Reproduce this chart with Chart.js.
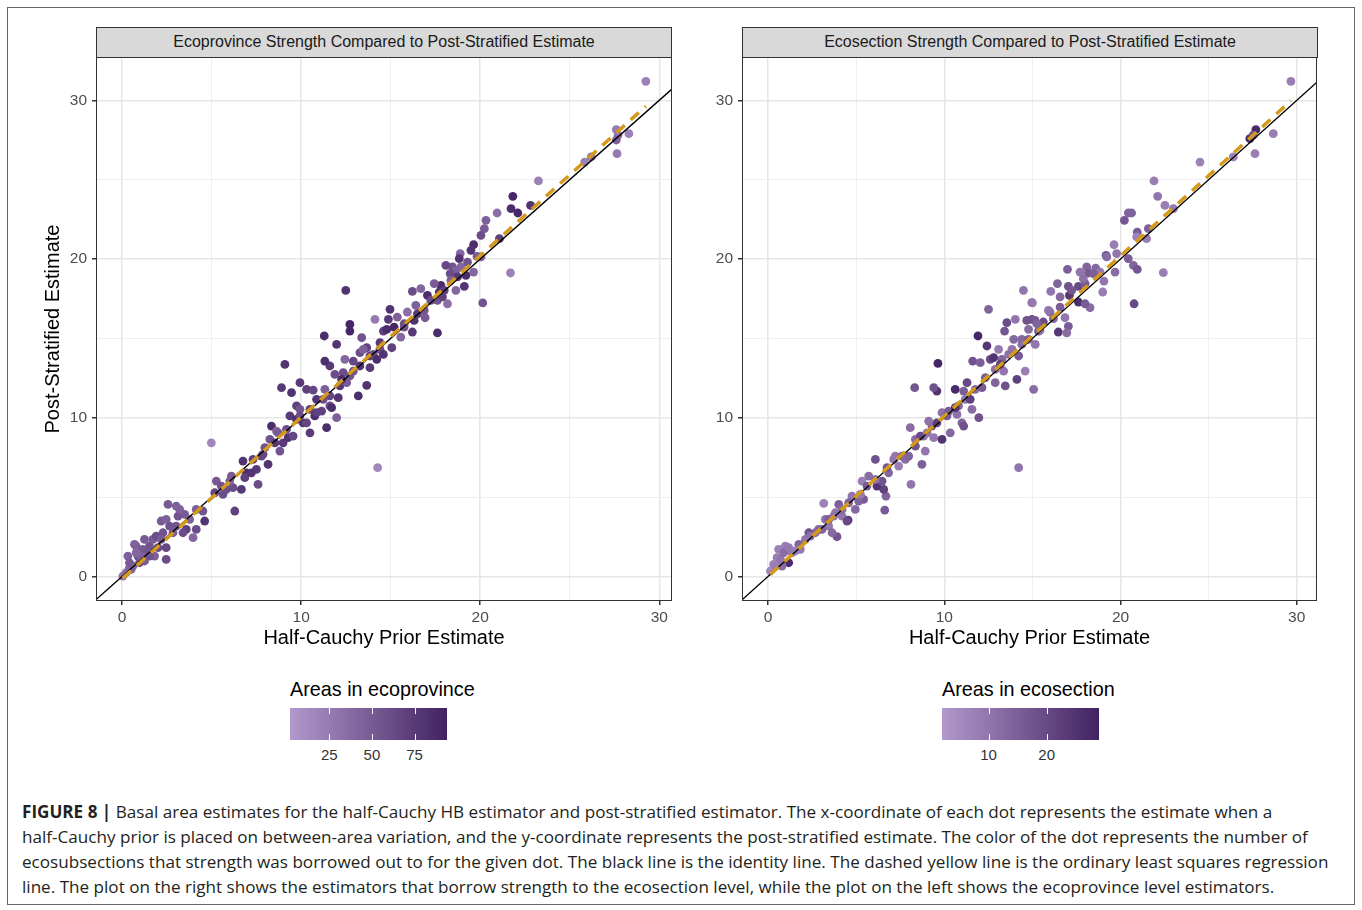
<!DOCTYPE html>
<html>
<head>
<meta charset="utf-8">
<script src="https://cdn.jsdelivr.net/npm/chart.js@4.4.1/dist/chart.umd.min.js"></script>
<style>
  body { margin: 0; background: #fff; font-family: "Liberation Sans", Arial, sans-serif; }
  #page { position: relative; width: 1362px; height: 910px; overflow: hidden; }
  #frame { position: absolute; left: 7px; top: 7px; width: 1348px; height: 898px; border: 1.5px solid #666; box-sizing: border-box; }
  .box { position: absolute; }
  .strip { position: absolute; top: 27px; height: 31px; width: 576px; background: #d9d9d9; border: 1px solid #333; box-sizing: border-box;
           font-size: 16px; color: #1a1a1a; text-align: center; line-height: 28px; z-index: 2; }
  .legTitle { position: absolute; top: 678px; font-size: 19.8px; color: #000; white-space: nowrap; }
  .bar { position: absolute; top: 708px; height: 32px; width: 157px; }
  .tick { position: absolute; width: 1px; height: 6px; background: #fff; }
  .lab { position: absolute; top: 746px; font-size: 15px; color: #333; transform: translateX(-50%); }
  #caption { position: absolute; left: 22px; top: 799px; font-family: "Open Sans", sans-serif; font-size: 17.1px; line-height: 25px; color: #231f20; white-space: nowrap; }
</style>
</head>
<body>
<div id="page">
  <div id="frame"></div>
  <div class="box" style="left:0;top:0;width:700px;height:670px;"><canvas id="left"></canvas></div>
  <div class="box" style="left:700px;top:0;width:662px;height:670px;"><canvas id="right"></canvas></div>
  <div class="strip" style="left:96px;">Ecoprovince Strength Compared to Post-Stratified Estimate</div>
  <div class="strip" style="left:742px;">Ecosection Strength Compared to Post-Stratified Estimate</div>
  <div id="legends"></div>
  <div id="caption"><b>FIGURE 8 |</b> Basal area estimates for the half-Cauchy HB estimator and post-stratified estimator. The x-coordinate of each dot represents the estimate when a<br>half-Cauchy prior is placed on between-area variation, and the y-coordinate represents the post-stratified estimate. The color of the dot represents the number of<br>ecosubsections that strength was borrowed out to for the given dot. The black line is the identity line. The dashed yellow line is the ordinary least squares regression<br>line. The plot on the right shows the estimators that borrow strength to the ecosection level, while the plot on the left shows the ecoprovince level estimators.</div>
</div>
<script>
// ecoprovince panel (left): half-Cauchy estimate, post-stratified estimate, areas in ecoprovince
var leftX = [0.04,0.22,0.41,0.32,0.78,0.69,1.16,1.34,0.97,0.60,1.53,1.72,1.90,2.28,2.46,2.18,2.46,2.56,3.02,3.12,3.49,3.58,3.96,3.77,4.14,4.51,4.61,3.40,2.84,2.65,1.81,1.25,0.88,0.50,
  0.41,1.06,1.53,2.00,2.18,3.02,3.21,4.14,2.46,1.25,0.78,
  5.26,5.17,5.54,5.82,6.19,6.29,6.66,6.01,6.10,6.75,6.94,7.31,7.50,7.59,7.87,8.15,8.25,8.34,8.62,8.81,8.99,9.27,9.37,9.55,9.74,9.93,10.11,10.30,10.49,10.76,10.86,11.42,11.60,11.98,
  5.63,6.85,7.22,7.78,7.97,8.53,9.18,9.74,10.49,10.86,11.60,12.16,12.72,13.28,13.84,14.40,
  9.09,8.90,9.46,9.93,10.30,10.67,11.32,11.23,11.70,12.07,11.60,11.32,11.98,11.88,12.44,12.72,12.72,13.19,13.66,13.38,13.28,13.66,13.84,14.03,14.22,14.59,14.59,14.87,14.12,14.96,14.78,15.06,
  12.91,12.54,12.35,12.91,13.47,14.40,8.71,9.93,11.14,12.26,4.98,14.27,12.49,11.29,
  29.25,27.60,27.70,27.60,28.30,27.64,25.83,26.20,23.25,21.82,21.72,22.10,22.81,20.94,20.32,20.23,20.04,21.07,19.63,18.88,18.83,19.82,20.04,18.45,18.64,18.32,18.92,19.20,19.63,21.69,
  19.11,17.80,17.43,18.64,18.17,17.61,17.05,16.68,16.21,20.14,16.40,16.87,15.93,15.37,15.75,16.31,16.92,16.21,17.61,15.56,15.19,17.71,17.99,
  18.08,18.73,19.29,19.48,18.36,17.89,17.24,16.49,15.75];
var leftY = [0.02,0.23,0.55,1.28,1.91,2.02,1.70,1.49,0.86,0.65,1.91,2.33,2.54,2.75,1.07,3.49,3.59,4.54,4.43,3.80,3.91,2.96,2.44,3.59,4.22,4.12,3.49,2.75,2.75,3.17,1.28,0.97,1.28,0.44,
  0.86,1.28,1.28,1.81,2.33,3.17,4.22,2.96,1.81,2.33,1.49,
  6.01,5.27,5.69,5.48,5.59,4.12,5.48,6.01,6.32,7.27,6.53,7.37,6.74,5.80,7.69,7.06,8.63,9.47,9.16,7.90,8.42,8.74,10.11,8.84,10.74,10.53,9.68,9.68,9.05,10.11,10.32,9.37,10.74,10.00,
  5.17,6.22,6.53,7.58,8.11,8.42,9.26,9.89,10.53,11.16,11.37,12.00,12.63,13.26,13.89,14.31,
  13.36,11.89,11.58,12.21,11.79,11.74,11.79,11.16,10.63,11.26,13.26,13.57,14.62,12.73,13.68,15.88,15.46,11.37,12.04,15.04,14.10,14.41,13.15,13.99,13.68,13.99,15.46,16.20,16.20,16.83,15.57,14.41,
  12.94,12.21,12.84,13.57,14.31,14.73,9.05,10.11,10.42,12.42,8.42,6.85,18.02,15.15,
  31.20,28.15,27.80,27.50,27.90,26.64,26.11,26.43,24.92,23.95,23.17,22.90,23.38,22.90,22.44,21.91,21.49,21.28,20.90,20.34,20.02,20.17,20.13,19.50,19.29,19.08,19.50,18.97,19.18,19.12,
  18.28,18.34,18.45,18.03,17.18,17.39,17.71,18.13,17.96,17.23,17.08,16.76,16.66,16.34,15.92,16.13,16.30,15.40,15.34,15.08,15.71,17.92,18.03,
  19.60,18.87,19.81,20.55,18.66,17.61,17.39,16.55,15.71];
var leftAreas = [30,35,40,45,50,45,50,55,60,40,55,50,60,55,60,50,45,50,45,55,50,70,40,45,45,55,80,60,50,55,45,50,55,45,
  50,45,55,60,50,55,45,60,65,50,40,
  50,65,55,60,60,70,75,45,50,80,85,70,75,60,65,80,55,85,40,55,75,80,75,65,70,55,80,65,75,85,70,85,60,45,
  60,70,80,65,55,75,60,85,70,80,65,75,55,80,70,60,
  80,75,80,75,70,65,45,60,85,80,75,85,80,60,40,90,90,85,80,55,60,70,75,60,85,80,70,75,25,80,85,70,
  55,50,60,65,45,75,50,60,70,85,15,15,80,85,
  20,25,30,45,20,25,20,30,20,90,85,90,80,35,45,50,60,70,85,40,80,50,45,55,45,60,40,85,40,20,
  80,85,50,40,35,55,85,40,60,55,45,55,35,45,60,80,50,75,85,40,90,80,70,
  65,75,55,80,45,70,60,75,55];

// ecosection panel (right)
var rightX = [14.22,8.11,6.62,6.69,6.56,6.18,6.47,6.09,5.33,5.71,5.42,5.14,4.76,4.95,4.54,4.20,4.01,3.82,3.91,3.16,3.25,3.44,3.06,2.68,2.31,2.12,1.74,1.83,1.17,0.98,0.60,0.51,0.32,0.13,0.79,1.36,1.55,3.63,4.48,
  0.42,0.70,0.89,1.17,2.40,2.87,3.44,3.72,4.20,4.57,5.24,5.61,6.09,6.84,7.22,7.60,8.36,8.83,9.30,9.87,10.15,10.81,11.19,11.76,12.33,12.89,13.27,13.84,14.40,14.78,
  6.75,7.13,7.41,7.79,7.98,8.73,8.92,8.36,8.07,8.64,9.02,9.40,9.58,9.11,9.87,10.34,10.25,10.72,11.00,11.10,10.62,11.10,11.47,11.57,11.96,12.14,11.29,10.62,9.58,9.40,8.32,
  9.64,11.91,11.61,12.04,12.42,12.61,12.89,13.46,13.37,13.18,13.42,13.55,14.03,13.94,14.22,14.40,14.59,14.12,14.78,14.97,14.97,12.51,15.07,15.16,15.35,13.08,13.65,12.80,
  29.67,28.67,27.63,27.68,27.34,27.53,26.40,24.51,21.90,22.11,22.52,23.00,20.44,20.63,20.22,20.95,21.58,21.48,20.92,19.63,19.18,19.78,20.44,20.73,20.95,22.43,
  18.08,17.70,18.18,18.59,18.84,19.06,18.99,19.69,16.99,16.42,16.04,17.04,17.61,17.99,17.10,17.61,18.27,17.99,20.77,15.00,14.49,16.00,16.57,16.85,16.19,15.62,15.15,16.47,17.04,16.95,14.68,15.43,
  19.22,18.46,17.89,17.23,16.57,15.91,15.25];
var rightY = [6.85,5.80,4.18,5.06,5.48,5.69,6.01,7.37,6.01,6.32,4.85,4.75,5.06,4.22,3.55,3.80,4.54,4.01,2.50,4.60,3.59,3.17,2.96,2.75,2.75,2.33,2.02,1.70,0.86,1.91,1.70,1.18,0.76,0.34,0.65,1.49,1.60,2.75,3.49,
  0.65,1.07,1.49,1.81,2.54,2.96,3.59,3.80,4.22,4.64,5.17,5.69,6.11,6.53,7.58,7.58,8.63,8.84,9.47,10.32,10.11,10.74,11.16,11.79,12.52,13.05,13.68,14.31,14.94,15.57,
  6.85,7.37,6.95,7.37,7.58,7.06,7.90,8.21,9.37,8.84,9.05,8.74,9.68,9.79,8.63,9.05,10.42,10.21,9.68,9.47,10.63,11.68,11.16,10.53,10.00,11.89,12.21,11.79,11.68,11.89,11.89,
  13.42,15.15,13.57,13.47,14.52,13.68,12.21,12.00,12.94,13.36,15.46,15.99,16.20,14.94,13.89,14.62,12.94,12.42,14.94,16.20,17.25,16.83,11.79,14.62,15.46,14.31,13.99,13.78,
  31.20,27.90,26.64,28.15,27.58,27.80,26.43,26.11,24.92,23.95,23.38,23.17,22.90,22.90,22.44,21.70,21.91,21.28,21.39,20.90,20.23,20.34,20.02,19.60,19.35,19.14,
  19.50,19.18,19.12,19.43,19.18,18.61,17.92,19.18,19.35,18.45,17.96,18.28,18.28,18.45,17.71,17.29,16.93,17.18,17.18,17.23,18.03,16.66,16.97,16.30,16.24,16.03,16.13,15.40,15.76,15.34,16.13,15.50,
  20.13,19.08,18.76,18.03,17.61,16.76,15.92];
var rightAreas = [10,10,16,14,22,25,18,18,8,12,16,14,10,13,25,10,15,10,17,7,11,9,14,12,18,10,14,9,27,8,7,8,7,6,12,9,8,13,20,
  8,10,12,9,11,13,15,10,12,14,9,16,11,13,10,15,12,9,14,11,16,13,10,12,15,11,14,10,13,12,
  17,10,8,12,14,15,10,18,12,20,10,9,22,11,25,13,16,11,14,18,25,15,22,12,18,16,20,27,25,18,17,
  28,28,18,15,24,20,14,18,10,22,17,19,10,13,16,12,8,22,15,18,16,14,12,10,20,9,11,25,
  8,8,8,27,28,18,7,7,8,10,8,9,14,14,17,16,15,8,7,8,18,10,15,14,17,8,
  14,10,16,13,9,10,8,12,15,14,10,18,20,16,24,26,12,16,20,9,10,13,15,10,14,19,17,24,16,12,18,10,
  12,15,11,17,13,10,14];

// OLS fit lines (start and end of each dashed line)
var leftOlsX = [0.04, 29.25];
var leftOlsY = [-0.11, 29.63];
var rightOlsX = [0.13, 29.67];
var rightOlsY = [0.13, 29.97];

var xTicks = [0, 10, 20, 30];
var yTicks = [0, 10, 20, 30];
var leftLegendTicks = [25, 50, 75];
var rightLegendTicks = [10, 20];
var leftAreaRange = [2, 94];
var rightAreaRange = [2, 29];

var lowCol = [178, 152, 203];
var highCol = [66, 34, 98];

function areaColor(v, range) {
  var t = (v - range[0]) / (range[1] - range[0]);
  t = Math.max(0, Math.min(1, t));
  var c = lowCol.map(function (lo, i) { return Math.round(lo + (highCol[i] - lo) * t); });
  return 'rgb(' + c.join(',') + ')';
}

function pts(xs, ys) {
  return xs.map(function (x, i) { return {x: x, y: ys[i]}; });
}

var panelBorder = {
  id: 'panelBorder',
  afterDraw: function (chart) {
    var a = chart.chartArea, ctx = chart.ctx;
    ctx.save();
    ctx.strokeStyle = '#333';
    ctx.lineWidth = 1;
    ctx.strokeRect(Math.round(a.left) + 0.5, Math.round(a.top) + 0.5, Math.round(a.right - a.left) - 1, Math.round(a.bottom - a.top) - 1);
    ctx.restore();
  }
};

function gridColor(ctx) { return ctx.tick && ctx.tick.value % 10 === 0 ? '#e6e6e6' : '#efefef'; }
function gridWidth(ctx) { return ctx.tick && ctx.tick.value % 10 === 0 ? 1.5 : 1; }
function tickColor(ctx) { return ctx.tick && ctx.tick.value % 10 === 0 ? '#333' : 'rgba(0,0,0,0)'; }

function makePanel(id, xs, ys, areas, range, olsX, olsY, xMin, xMax, opts) {
  new Chart(id, {
    type: 'scatter',
    data: {
      datasets: [
        {
          type: 'line',
          data: pts(olsX, olsY),
          borderColor: '#d69a1a',
          borderWidth: 3.5,
          borderDash: [11, 8],
          pointRadius: 0,
          clip: 0,
          order: 1
        },
        {
          type: 'line',
          data: [{x: -5, y: -5}, {x: 40, y: 40}],
          borderColor: '#000',
          borderWidth: 1.4,
          pointRadius: 0,
          clip: 0,
          order: 2
        },
        {
          data: pts(xs, ys),
          pointBackgroundColor: areas.map(function (v) { return areaColor(v, range); }),
          pointBorderWidth: 0,
          pointRadius: 4.4,
          order: 3
        }
      ]
    },
    options: {
      responsive: true,
      maintainAspectRatio: false,
      animation: false,
      layout: {padding: {left: opts.padLeft, top: 57, right: opts.padRight, bottom: 10}},
      plugins: {legend: {display: false}, tooltip: {enabled: false}},
      scales: {
        x: {
          type: 'linear',
          min: xMin, max: xMax,
          afterFit: function (s) { s.height = 59; },
          ticks: {stepSize: 5, includeBounds: false, padding: 3, color: '#4d4d4d', font: {size: 15.5},
                  callback: function (v) { return xTicks.indexOf(v) >= 0 ? v : ''; }},
          grid: {color: gridColor, lineWidth: gridWidth, tickColor: tickColor, tickLength: 4},
          border: {display: false},
          title: {display: true, text: 'Half-Cauchy Prior Estimate', color: '#000', font: {size: 20, lineHeight: 1.2}, padding: {top: 0, bottom: 10}}
        },
        y: {
          type: 'linear',
          min: -1.55, max: 32.73,
          afterFit: function (s) { s.width = opts.yWidth; },
          ticks: {stepSize: 5, includeBounds: false, padding: 5, color: '#4d4d4d', font: {size: 15.5},
                  callback: function (v) { return yTicks.indexOf(v) >= 0 ? v : ''; }},
          grid: {color: gridColor, lineWidth: gridWidth, tickColor: tickColor, tickLength: 4},
          border: {display: false},
          title: {display: opts.yTitle, text: 'Post-Stratified Estimate', color: '#000', font: {size: 20, lineHeight: 1.2}, padding: {top: 11, bottom: 0}}
        }
      }
    },
    plugins: [panelBorder]
  });
}

makePanel('left', leftX, leftY, leftAreas, leftAreaRange, leftOlsX, leftOlsY, -1.46, 30.71,
  {padLeft: 30, padRight: 28, yWidth: 66, yTitle: true});
makePanel('right', rightX, rightY, rightAreas, rightAreaRange, rightOlsX, rightOlsY, -1.48, 31.15,
  {padLeft: 0, padRight: 45, yWidth: 42, yTitle: false});

// colour bar legends
function colourBar(left, title, range, ticks) {
  var holder = document.getElementById('legends');
  var t = document.createElement('div');
  t.className = 'legTitle';
  t.style.left = left + 'px';
  t.textContent = title;
  holder.appendChild(t);
  var bar = document.createElement('div');
  bar.className = 'bar';
  bar.style.left = left + 'px';
  bar.style.background = 'linear-gradient(to right, ' + areaColor(range[0], range) + ', ' + areaColor(range[1], range) + ')';
  holder.appendChild(bar);
  ticks.forEach(function (v) {
    var px = (v - range[0]) / (range[1] - range[0]) * 157;
    [0, 26].forEach(function (top) {
      var tk = document.createElement('div');
      tk.className = 'tick';
      tk.style.left = Math.round(px) + 'px';
      tk.style.top = top + 'px';
      bar.appendChild(tk);
    });
    var lab = document.createElement('div');
    lab.className = 'lab';
    lab.style.left = (left + px) + 'px';
    lab.textContent = v;
    holder.appendChild(lab);
  });
}

colourBar(290, 'Areas in ecoprovince', leftAreaRange, leftLegendTicks);
colourBar(942, 'Areas in ecosection', rightAreaRange, rightLegendTicks);
</script>
</body>
</html>
